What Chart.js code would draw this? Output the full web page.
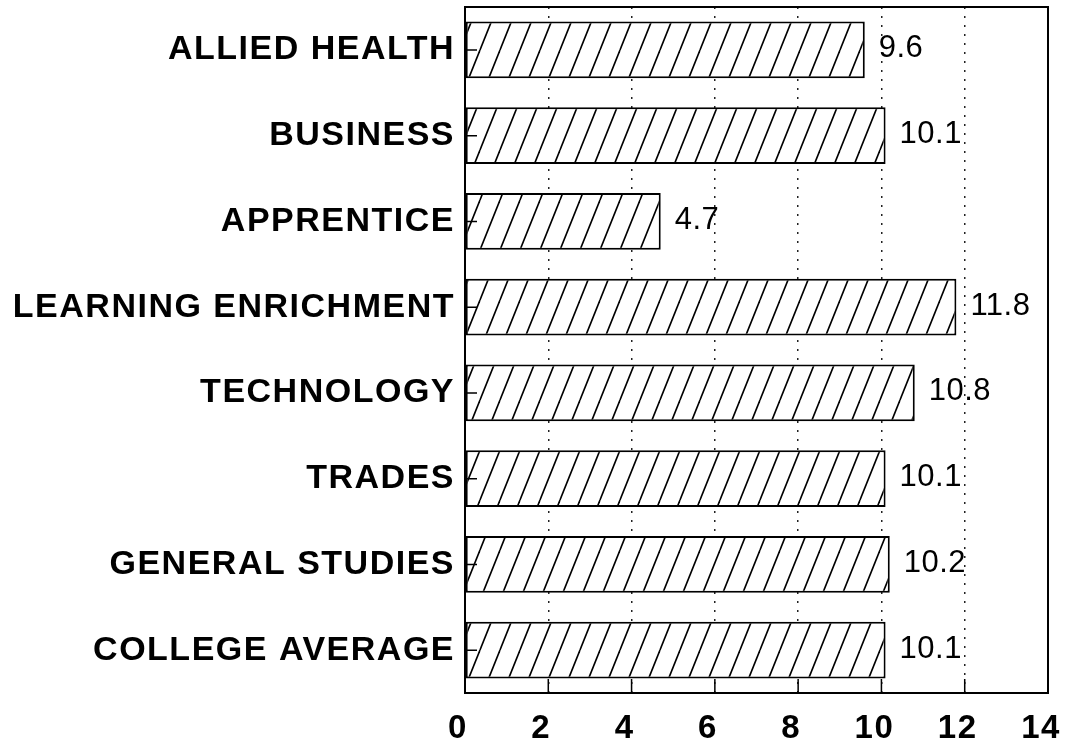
<!DOCTYPE html>
<html>
<head>
<meta charset="utf-8">
<script src="https://cdn.jsdelivr.net/npm/chart.js@4/dist/chart.umd.min.js"></script>
<style>
  html, body { margin: 0; padding: 0; background: #fff; }
  #wrap { width: 1071px; height: 741px; }
</style>
</head>
<body>
<div id="wrap"><canvas id="chart" width="1071" height="741"></canvas></div>
<script>
'use strict';

const categories = [
  'ALLIED HEALTH', 'BUSINESS', 'APPRENTICE', 'LEARNING ENRICHMENT',
  'TECHNOLOGY', 'TRADES', 'GENERAL STUDIES', 'COLLEGE AVERAGE'
];
const values = [9.6, 10.1, 4.7, 11.8, 10.8, 10.1, 10.2, 10.1];
const xTicks = [0, 2, 4, 6, 8, 10, 12, 14];

const FONT = '"Liberation Sans", Arial, Helvetica, sans-serif';

// Diagonal "/" hatching, like the printed original.
function makeHatch() {
  const tile = document.createElement('canvas');
  tile.width = 20;
  tile.height = 50;
  const c = tile.getContext('2d');
  c.fillStyle = '#fff';
  c.fillRect(0, 0, 20, 50);
  c.strokeStyle = '#000';
  c.lineWidth = 1.6;
  for (const off of [-20, 0, 20]) {
    c.beginPath();
    c.moveTo(off, 50);
    c.lineTo(off + 20, 0);
    c.stroke();
  }
  return c.createPattern(tile, 'repeat');
}

// Frame, inward ticks and value labels.
const decorations = {
  id: 'decorations',
  beforeDraw(chart) {
    chart.ctx.letterSpacing = '1.5px';
  },
  afterDatasetsDraw(chart) {
    const ctx = chart.ctx;
    const area = chart.chartArea;
    const x = chart.scales.x;
    const y = chart.scales.y;
    ctx.save();
    ctx.strokeStyle = '#000';
    ctx.lineWidth = 1.5;
    ctx.beginPath();
    for (const v of xTicks) {
      const px = x.getPixelForValue(v);
      ctx.moveTo(px, area.bottom);
      ctx.lineTo(px, area.bottom - 14);
    }
    for (let i = 0; i < categories.length; i++) {
      const py = y.getPixelForValue(i);
      ctx.moveTo(area.left, py);
      ctx.lineTo(area.left + 12, py);
    }
    ctx.stroke();

    ctx.lineWidth = 2;
    ctx.strokeRect(area.left, area.top, area.right - area.left, area.bottom - area.top);

    ctx.letterSpacing = '0.5px';
    ctx.fillStyle = '#000';
    ctx.font = '31px ' + FONT;
    ctx.textAlign = 'left';
    ctx.textBaseline = 'middle';
    const meta = chart.getDatasetMeta(0);
    meta.data.forEach((bar, i) => {
      ctx.fillText(values[i].toFixed(1), bar.x + 14, bar.y - 1);
    });
    ctx.restore();
  }
};

new Chart(document.getElementById('chart'), {
  type: 'bar',
  data: {
    labels: categories,
    datasets: [{
      data: values,
      backgroundColor: makeHatch(),
      borderColor: '#000',
      borderWidth: 2,
      borderSkipped: false,
      categoryPercentage: 1,
      barPercentage: 0.66
    }]
  },
  options: {
    indexAxis: 'y',
    responsive: false,
    animation: false,
    layout: { padding: { top: 7, right: 23, bottom: 0, left: 0 } },
    plugins: {
      legend: { display: false },
      tooltip: { enabled: false }
    },
    scales: {
      x: {
        min: 0,
        max: 14,
        afterFit(scale) {
          scale.height = 48;
          scale.paddingLeft = 0;
          scale.paddingRight = 0;
        },
        afterBuildTicks(scale) { scale.ticks = xTicks.map(v => ({ value: v })); },
        border: { display: false, dash: [2, 7] },
        grid: {
          color: '#222',
          lineWidth: 1.5,
          drawTicks: false,
          tickLength: 0
        },
        ticks: {
          color: '#000',
          padding: 16,
          labelOffset: -7,
          font: { family: FONT, size: 33, weight: 'bold' }
        }
      },
      y: {
        afterFit(scale) {
          scale.width = 465;
          scale.paddingTop = 0;
          scale.paddingBottom = 0;
        },
        border: { display: false },
        grid: { display: false, drawTicks: false },
        ticks: {
          color: '#000',
          padding: 10,
          font: { family: FONT, size: 34, weight: 'bold' }
        }
      }
    }
  },
  plugins: [decorations]
});
</script>
</body>
</html>
